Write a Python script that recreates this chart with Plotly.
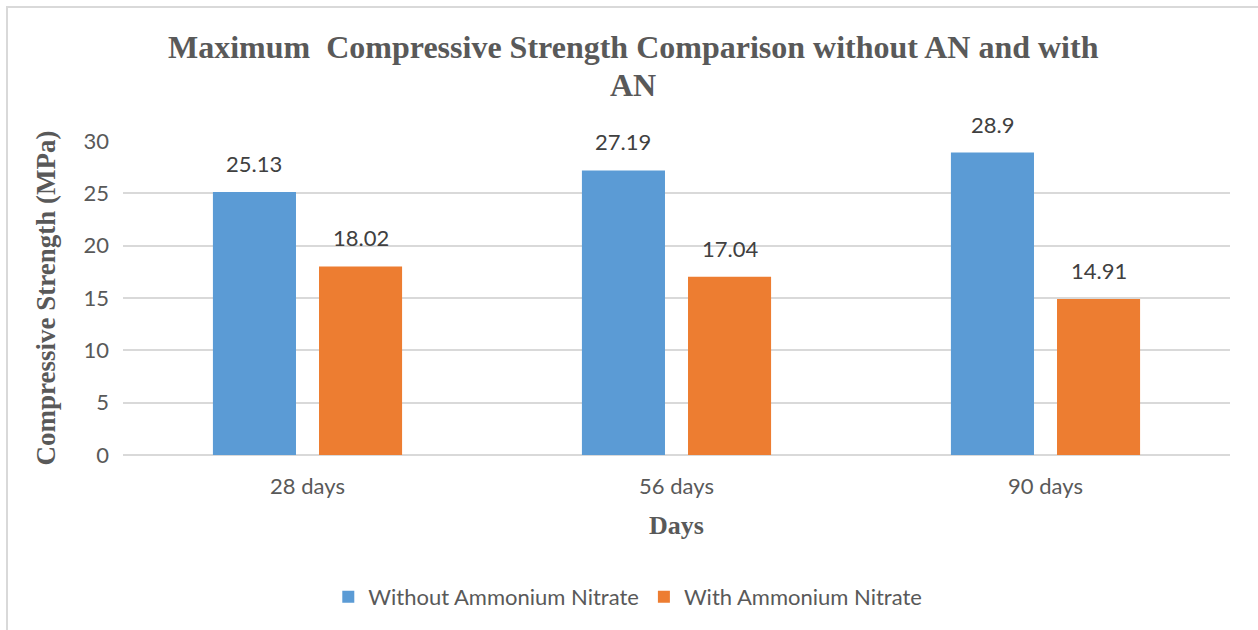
import plotly.graph_objects as go

# Curing ages and compressive strength results (MPa)
categories = ["28 days", "56 days", "90 days"]
without_an = [25.13, 27.19, 28.9]
with_an = [18.02, 17.04, 14.91]
series_names = ["Without Ammonium Nitrate", "With Ammonium Nitrate"]
y_ticks = [0, 5, 10, 15, 20, 25, 30]
title_lines = ["Maximum  Compressive Strength Comparison without AN and with", "AN"]

BLUE = "#5B9BD5"
ORANGE = "#ED7D31"
TEXT = "#595959"
GRID = "#D9D9D9"
SANS = "Lato, 'Open Sans', sans-serif"
SERIF = "'Liberation Serif', 'Times New Roman', serif"

W, H = 1258, 630
ML, MR, MT, MB = 123, 28, 141, 175
pw = W - ML - MR
ph = H - MT - MB


def px_to_paper_y(py):
    return (H - MB - py) / ph


def px_to_paper_x(px):
    return (px - ML) / pw


fig = go.Figure()
fig.add_trace(go.Bar(x=categories, y=without_an, name=series_names[0],
                     marker=dict(color=BLUE, line=dict(width=0))))
fig.add_trace(go.Bar(x=categories, y=with_an, name=series_names[1],
                     marker=dict(color=ORANGE, line=dict(width=0))))

# value labels above each bar
bargap, groupgap = 0.425, 0.217
slot = (1 - bargap) / 2
annotations = []
for i, cat in enumerate(categories):
    for j, vals in enumerate([without_an, with_an]):
        offset = (j - 0.5) * slot
        annotations.append(dict(
            x=i + offset, y=vals[i], xref="x", yref="y",
            text=f"{vals[i]:g}", showarrow=False, yanchor="bottom",
            yshift=13, font=dict(family=SANS, size=22, color="#404040")))

# two-line chart title
for line, py in zip(title_lines, [47, 85]):
    annotations.append(dict(
        x=px_to_paper_x(633), y=px_to_paper_y(py), xref="paper", yref="paper",
        text=f"<b>{line}</b>", showarrow=False, xanchor="center", yanchor="middle",
        font=dict(family=SERIF, size=32, color=TEXT)))

# chart-area frame
shapes = [dict(type="rect", xref="paper", yref="paper",
               x0=px_to_paper_x(7), x1=px_to_paper_x(W + 5),
               y0=px_to_paper_y(H + 5), y1=px_to_paper_y(7),
               line=dict(color=GRID, width=2), fillcolor="rgba(0,0,0,0)",
               layer="below")]

fig.update_layout(
    width=W, height=H,
    margin=dict(l=ML, r=MR, t=MT, b=MB),
    paper_bgcolor="white", plot_bgcolor="white",
    barmode="group", bargap=bargap, bargroupgap=groupgap,
    xaxis=dict(type="category", tickfont=dict(family=SANS, size=22, color=TEXT),
               showgrid=False, showline=False, ticks="", ticklabelstandoff=16,
               title=dict(text="<b>Days</b>", standoff=17,
                          font=dict(family=SERIF, size=26, color=TEXT))),
    yaxis=dict(range=[0, 30], tickvals=y_ticks, showgrid=True, gridcolor=GRID,
               gridwidth=2, zeroline=True, zerolinecolor=GRID, zerolinewidth=2,
               showline=False, ticks="", ticklabelstandoff=13,
               tickfont=dict(family=SANS, size=22, color=TEXT),
               title=dict(text="<b>Compressive Strength (MPa)</b>", standoff=20,
                          font=dict(family=SERIF, size=27, color=TEXT))),
    legend=dict(orientation="h", x=0.456, xanchor="center", y=px_to_paper_y(597),
                yanchor="middle", font=dict(family=SANS, size=22, color=TEXT),
                traceorder="normal", itemwidth=30),
    annotations=annotations,
    shapes=shapes,
    showlegend=True,
)

fig.write_html("out.html")
